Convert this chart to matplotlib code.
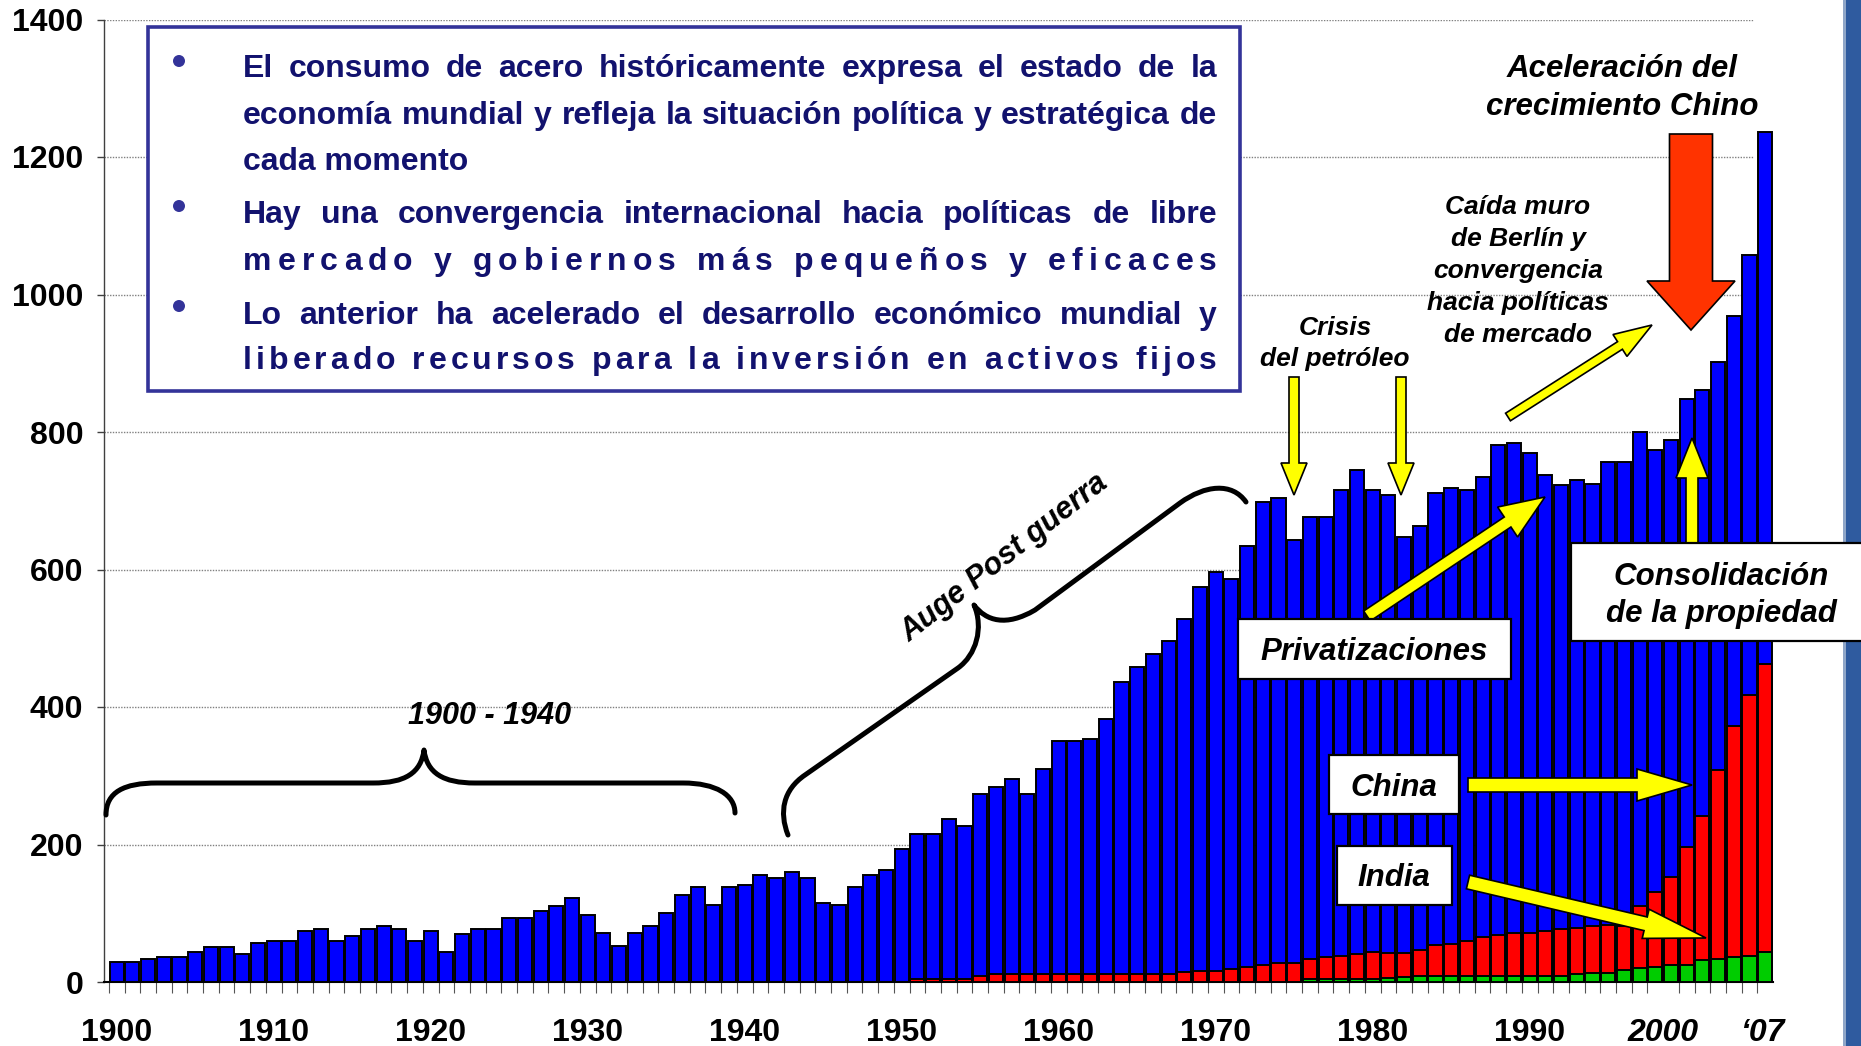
import matplotlib
matplotlib.use("Agg")
import matplotlib.pyplot as plt
import matplotlib.transforms as mtransforms
from matplotlib.patches import FancyArrow, Rectangle, PathPatch, Circle
from matplotlib.path import Path
import numpy as np

plt.rcParams['font.family'] = ['Liberation Sans', 'DejaVu Sans']

W, H = 1861, 1046

# ---------------- data ----------------
world = [29.5, 29.5, 33, 37, 37, 44, 51.5, 51.5, 41, 56.5,
         59, 59, 73.5, 77, 59, 67, 77, 81.5, 77, 59,
         73.5, 44, 70, 77, 77, 92.5, 92.5, 103.5, 111, 122,
         97, 71, 52, 71, 82, 100, 126, 137.5, 111.5, 137.5,
         141.5, 156, 152, 159.5, 152, 115.5, 111.5, 137.5, 156, 163.5,
         193.5, 215, 215, 237, 226.5, 274, 284, 295, 273, 310,
         350, 350, 354, 383, 436, 458.5, 477.5, 495.5, 528, 575,
         596.5, 585.5, 633.5, 698, 704.5, 643, 676.5, 676.5, 716, 745,
         716, 708, 647, 664, 711.5, 719, 715, 734.5, 780.5, 784.5,
         770, 737, 722.5, 730, 725, 756, 756, 800, 774, 789,
         847.5, 861, 902.5, 969, 1058, 1236]

china_start = 51
china = [5, 5, 5, 5, 9, 11, 12, 12, 12, 12,
         12, 12, 12, 12, 12, 12, 12, 14, 15.5, 15.5,
         19.5, 22, 25, 27, 27, 33.5, 36, 38, 41, 43.5,
         42, 42, 46, 54, 56, 59, 65, 69, 71, 72,
         74, 77, 79, 81, 83, 82, 111, 131, 153, 197,
         241, 308, 373, 417, 462]

india_start = 76
india = [4, 4, 4, 4, 4,
         6, 8, 9, 9, 9, 9, 9, 9, 9, 9,
         9, 9, 11.5, 13.5, 13.5, 17.5, 20, 22, 25, 25,
         31.5, 33.5, 36, 38, 44]

x_labels = ['1900', '1910', '1920', '1930', '1940', '1950', '1960',
            '1970', '1980', '1990', '2000', '\u201807']
x_label_pos = [0, 10, 20, 30, 40, 50, 60, 70, 80, 90, 98.5, 104.8]
y_ticks = [0, 200, 400, 600, 800, 1000, 1200, 1400]

bullets = [
    ("El consumo de acero históricamente expresa el estado de la", 'words'),
    ("economía mundial y refleja la situación política y estratégica de", 'words'),
    ("cada momento", 'left'),
    ("Hay una convergencia internacional hacia políticas de libre", 'words'),
    ("mercado y gobiernos más pequeños y eficaces", 'chars'),
    ("Lo anterior ha acelerado el desarrollo económico mundial y", 'words'),
    ("liberado recursos para la inversión en activos fijos", 'chars'),
]

# ---------------- figure / axes ----------------
fig = plt.figure(figsize=(W / 100, H / 100), dpi=100)
fig.patch.set_facecolor('white')
xmin, xmax = -0.81, 105.6
px_per_bar = 15.7
ax = fig.add_axes([104 / W, 1 - 982 / H, (xmax - xmin) * px_per_bar / W, (982 - 19.5) / H])

x = np.arange(len(world))
ax.bar(x, world, width=0.9, color='#0000FF', edgecolor='black', linewidth=1.4, zorder=2)
ax.bar(np.arange(china_start, china_start + len(china)), china, width=0.9,
       color='#FF0000', edgecolor='black', linewidth=1.4, zorder=3)
ax.bar(np.arange(india_start, india_start + len(india)), india, width=0.9,
       color='#00CC00', edgecolor='black', linewidth=1.4, zorder=4)

ax.set_xlim(xmin, xmax)
ax.set_ylim(0, 1400)
ax.hlines(y_ticks[1:], xmin, 104.3, colors='#808080', linewidth=1.0,
          linestyles=(0, (1, 1)), zorder=1)

for s in ('top', 'right'):
    ax.spines[s].set_visible(False)
ax.spines['left'].set_color('#404040')
ax.spines['left'].set_linewidth(1.0)
ax.spines['bottom'].set_color('black')
ax.spines['bottom'].set_linewidth(1.5)
ax.spines['bottom'].set_bounds(xmin, len(world) - 0.5)

ax.set_yticks(y_ticks)
ax.set_yticklabels([str(v) for v in y_ticks], fontsize=23, fontweight='bold')
ax.tick_params(axis='y', length=5, width=1, pad=10, color='#404040')

ax.set_xticks(x_label_pos)
ax.set_xticklabels(x_labels, fontsize=23, fontweight='bold')
ax.set_xticks(np.arange(-0.5, len(world) - 1, 1.0), minor=True)
ax.tick_params(axis='x', which='major', length=0, pad=26)
ax.tick_params(axis='x', which='minor', length=8, width=0.8, color='#555555')
for lab in ax.get_xticklabels()[-2:]:
    lab.set_fontstyle('italic')

# ---------------- annotation layer (figure pixel coords, y down) ----------------
PX = mtransforms.Affine2D().scale(1.0 / W, -1.0 / H).translate(0, 1) + fig.transFigure


def label(xc, yc, s, size, z=7, **kw):
    base = yc + 0.358 * size / 0.72
    fig.text(xc, base, s, transform=PX, fontsize=size, ha='center', va='baseline',
             fontweight='bold', zorder=z, **kw)


def arrow(x0, y0, x1, y1, w, hw, hl, fc='#FFFF00', z=5):
    a = FancyArrow(x0, y0, x1 - x0, y1 - y0, width=w, head_width=hw, head_length=hl,
                   length_includes_head=True, fc=fc, ec='black', lw=1.2,
                   transform=PX, zorder=z)
    fig.add_artist(a)


def box(x0, y0, x1, y1, ec='black', lw=1.6, z=6):
    r = Rectangle((x0, y0), x1 - x0, y1 - y0, fc='white', ec=ec, lw=lw,
                  transform=PX, zorder=z)
    fig.add_artist(r)


def curve(cmds, lw=3.6):
    verts, codes = [], []
    for c, pts in cmds:
        if c == 'M':
            verts += pts; codes += [Path.MOVETO]
        elif c == 'L':
            verts += pts; codes += [Path.LINETO]
        elif c == 'C':
            verts += pts; codes += [Path.CURVE4] * 3
    p = PathPatch(Path(verts, codes), fill=False, ec='black', lw=lw,
                  capstyle='round', joinstyle='round', transform=PX, zorder=5)
    fig.add_artist(p)


# right-edge slide strip
fig.add_artist(Rectangle((1845, 0), 20, H, fc='#2F5B9F', ec='none', transform=PX, zorder=4))
fig.add_artist(Rectangle((1843, 0), 3, H, fc='#8FA6C8', ec='none', transform=PX, zorder=4))

# bullet text box
box(148, 27, 1240, 391, ec='#333399', lw=2.6)
text_color = '#12126E'
renderer = fig.canvas.get_renderer()


def measure(s, size):
    t = fig.text(0, 0, s, fontsize=size, fontweight='bold')
    w = t.get_window_extent(renderer=renderer).width
    t.remove()
    return w


left_px, right_px = 243, 1217
size = 23.0
while True:
    sp = measure('a a', size) - measure('aa', size)
    widest = max(sum(measure(w, size) for w in s.split(' ')) + sp * (len(s.split(' ')) - 1)
                 for s, m in bullets if m == 'words')
    if widest <= right_px - left_px - 4 or size < 14:
        break
    size -= 0.25

line_y = [66, 113, 159, 212, 259, 313, 358]
for (s, mode), yc in zip(bullets, line_y):
    base = yc + 0.358 * size / 0.72
    if mode == 'left':
        fig.text(left_px, base, s, transform=PX, fontsize=size, fontweight='bold',
                 color=text_color, ha='left', va='baseline', zorder=7)
        continue
    if mode == 'words':
        units = s.split(' ')
        widths = [measure(u, size) for u in units]
    else:
        units = list(s)
        widths = [sp if u == ' ' else measure(u, size) for u in units]
    gap = (right_px - left_px - sum(widths)) / (len(units) - 1)
    xx = left_px
    for u, w in zip(units, widths):
        if u != ' ':
            fig.text(xx, base, u, transform=PX, fontsize=size, fontweight='bold',
                     color=text_color, ha='left', va='baseline', zorder=7)
        xx += w + gap

for by in (61, 206, 306):
    fig.add_artist(Circle((179, by), 6, fc='#333399', ec='none', transform=PX, zorder=7))

# braces
curve([('M', [(106, 815)]), ('C', [(106, 792), (124, 783), (157, 783)]),
       ('L', [(373, 783)]), ('C', [(405, 783), (421, 773), (424, 750)]),
       ('C', [(427, 773), (443, 783), (475, 783)]), ('L', [(683, 783)]),
       ('C', [(716, 783), (735, 795), (735, 813)])])
curve([('M', [(788, 835)]), ('C', [(779, 812), (783, 790), (805, 775)]),
       ('L', [(958, 668)]), ('C', [(976, 655), (984, 628), (974, 605)]),
       ('C', [(986, 621), (1006, 627), (1035, 610)]), ('L', [(1180, 503)]),
       ('C', [(1205, 485), (1232, 482), (1246, 502)])])

label(490, 713, '1900 - 1940', 22, fontstyle='italic')
fig.text(1005, 558, 'Auge Post guerra', transform=PX, fontsize=22, fontweight='bold',
         fontstyle='italic', rotation=38, rotation_mode='anchor', ha='center',
         va='center', zorder=7)

# crisis del petróleo
label(1335, 326, 'Crisis', 19, fontstyle='italic')
label(1335, 357, 'del petróleo', 19, fontstyle='italic')
arrow(1294, 377, 1294, 495, 10, 26, 32, z=8)
arrow(1401, 377, 1401, 495, 10, 26, 32, z=8)

# Berlin
for yc, s in zip([205, 237, 269, 301, 333],
                 ['Caída muro', 'de Berlín y', 'convergencia', 'hacia políticas', 'de mercado']):
    label(1518, yc, s, 19, fontstyle='italic')
arrow(1508, 417, 1652, 325, 9, 26, 38)

# Chinese acceleration
label(1622, 66, 'Aceleración del', 22.5, fontstyle='italic')
label(1622, 104, 'crecimiento Chino', 22.5, fontstyle='italic')
arrow(1691, 134, 1691, 330, 43, 88, 49, fc='#FF3300')

# Privatizaciones
arrow(1367, 616, 1545, 497, 12, 36, 45)
box(1238, 619, 1511, 679)
label(1374, 649, 'Privatizaciones', 22.5, fontstyle='italic')

# Consolidación
arrow(1692, 560, 1692, 438, 12, 32, 40)
box(1571, 543, 1875, 641)
label(1721, 574, 'Consolidación', 22.5, fontstyle='italic')
label(1721, 611, 'de la propiedad', 22.5, fontstyle='italic')

# China / India
box(1329, 755, 1459, 814)
label(1394, 785, 'China', 22.5, fontstyle='italic')
arrow(1468, 785, 1692, 785, 14, 32, 55)
box(1337, 846, 1452, 905)
label(1394, 875, 'India', 22.5, fontstyle='italic')
arrow(1468, 882, 1706, 938, 14, 30, 62)

fig.savefig('out.png', dpi=100, facecolor='white')
